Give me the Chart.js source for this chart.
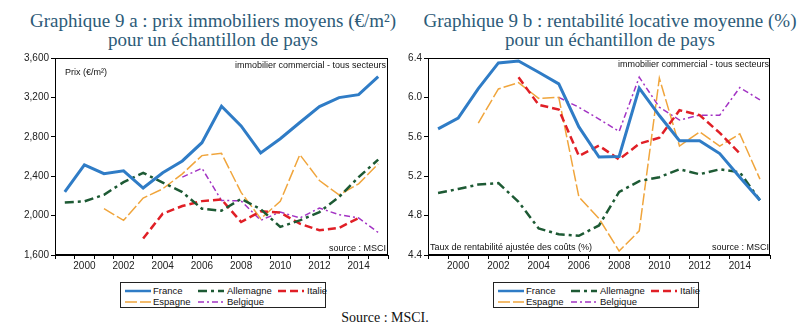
<!DOCTYPE html>
<html>
<head>
<meta charset="utf-8">
<script src="https://cdn.jsdelivr.net/npm/chart.js@4/dist/chart.umd.min.js"></script>
<style>
body{margin:0;background:#fff;width:805px;height:330px;position:relative;overflow:hidden}
.ttl{position:absolute;width:400px;text-align:center;white-space:nowrap;font-family:"Liberation Serif",serif;font-size:19px;line-height:20px;color:#2d5b78}
canvas{position:absolute}
.legend{position:absolute;border:1px solid #222;box-sizing:border-box;width:206px;height:26px;font-family:"Liberation Sans",Arial,sans-serif;font-size:9.5px;color:#111}
.legend svg,.legend span{position:absolute}
.src{position:absolute;left:285px;width:200px;top:310px;text-align:center;font-family:"Liberation Serif",serif;font-size:14px;line-height:16px;color:#111}
</style>
</head>
<body>

<div class="ttl" style="left:13px;top:11px">Graphique 9 a : prix immobiliers moyens (€/m²)</div>
<div class="ttl" style="left:13px;top:30px">pour un échantillon de pays</div>
<div class="ttl" style="left:410px;top:11px">Graphique 9 b : rentabilité locative moyenne (%)</div>
<div class="ttl" style="left:410px;top:30px">pour un échantillon de pays</div>

<canvas id="prixChart" width="400" height="230" style="left:0;top:50px"></canvas>
<canvas id="rentChart" width="405" height="230" style="left:400px;top:50px"></canvas>

<div class="legend" id="leg1" style="left:120px;top:282px"></div>
<div class="legend" id="leg2" style="left:493px;top:282px"></div>

<div class="src">Source : MSCI.</div>

<script>

let years=[1999,2000,2001,2002,2003,2004,2005,2006,2007,2008,2009,2010,2011,2012,2013,2014,2015]

let names=["France","Allemagne","Italie","Espagne","Belgique"]

// prix immobiliers (€/m²)
let prixFrance=[2240,2515,2425,2455,2280,2435,2555,2740,3110,2910,2636,2780,2945,3107,3198,3228,3410]
let prixAllemagne=[2134,2144,2211,2340,2434,2336,2238,2070,2050,2170,2065,1885,1952,2036,2188,2390,2568]
let prixItalie=[null,null,null,null,1767,2020,2097,2147,2164,1935,2043,2030,1918,1851,1875,1976,null]
let prixEspagne=[null,null,2070,1952,2178,2272,2424,2609,2632,2235,1969,2144,2619,2356,2211,2322,2525]
let prixBelgique=[null,null,null,null,null,null,2390,2481,2154,2150,1952,2036,1976,2077,2009,1976,1828]

// rentabilite locative (%)
let rentFrance=[5.68,5.79,6.09,6.35,6.37,6.255,6.137,5.70,5.395,5.40,6.095,5.816,5.56,5.56,5.43,5.19,4.956]
let rentAllemagne=[5.03,5.07,5.115,5.13,4.94,4.67,4.61,4.595,4.70,5.04,5.15,5.19,5.27,5.22,5.27,5.24,4.955]
let rentItalie=[null,null,null,null,6.205,5.924,5.877,5.405,5.51,5.37,5.53,5.59,5.87,5.82,5.64,5.43,null]
let rentEspagne=[null,null,5.74,6.086,6.15,5.99,6.00,4.99,4.77,4.44,4.645,6.195,5.506,5.65,5.506,5.63,5.17]
let rentBelgique=[null,null,null,null,null,null,6.00,5.90,5.78,5.654,6.205,5.90,5.77,5.82,5.82,6.10,5.975]

let colors=["#2f7cc6","#1d5a34","#e01f26","#f0a53c","#a334c4"]
let widths=[3,2.5,2.5,1.5,1.5]
let dashes=[[],[9,4,3,4],[8,4],[12,3],[6,3,2,3]]


let frame={
id:"frame",
afterDraw(chart,args,opts){
let c=chart.ctx
let a=chart.chartArea
c.save()
c.strokeStyle="#000"
c.lineWidth=1
c.strokeRect(a.left+0.5,a.top+0.5,a.right-a.left-1,a.bottom-a.top-1)
c.fillStyle="#111"
c.font="9px 'Liberation Sans', Arial, sans-serif"
c.textBaseline="middle"
;(opts.notes||[]).forEach(n=>{
c.textAlign=n.align
let x=n.align=="left"?a.left+n.dx:a.right-n.dx
let y=n.fromTop?a.top+n.dy:a.bottom-n.dy
c.fillText(n.text,x,y)
})
c.restore()
}
}


function makeChart(id,series,ymin,ymax,step,fmt,notes,yWidth,padRight){

return new Chart(
document.getElementById(id),
{
type:"line",
data:{
labels:years,
datasets:names.map((n,i)=>({
label:n,
data:series[i],
borderColor:colors[i],
borderWidth:widths[i],
borderDash:dashes[i],
pointRadius:0,
tension:0,
fill:false,
spanGaps:false
}))
},
options:{
responsive:false,
animation:false,
devicePixelRatio:1,
layout:{padding:{top:7,right:padRight,left:0,bottom:0}},
plugins:{
legend:{display:false},
tooltip:{enabled:false},
frame:{notes:notes}
},
scales:{
x:{
offset:true,
grid:{offset:true,drawOnChartArea:false,tickLength:4,color:"#000"},
border:{color:"#000"},
ticks:{
autoSkip:false,
maxRotation:0,
padding:1,
color:"#222",
font:{family:"Liberation Sans",size:10},
callback:(v,i)=>years[i]%2==0?String(years[i]):""
},
afterFit:s=>{s.height=25}
},
y:{
min:ymin,
max:ymax,
grid:{drawOnChartArea:false,tickLength:4,color:"#000"},
border:{color:"#000"},
ticks:{
stepSize:step,
padding:2,
color:"#222",
font:{family:"Liberation Sans",size:10},
callback:fmt
},
afterFit:s=>{s.width=yWidth}
}
}
},
plugins:[frame]
})

}


makeChart(
"prixChart",
[prixFrance,prixAllemagne,prixItalie,prixEspagne,prixBelgique],
1600,3600,400,
v=>Math.round(v).toLocaleString("en-US"),
[
{text:"Prix (€/m²)",align:"left",dx:10,dy:15,fromTop:true},
{text:"immobilier commercial - tous secteurs",align:"right",dx:2,dy:8,fromTop:true},
{text:"source : MSCI",align:"right",dx:2,dy:6,fromTop:false}
],
55,12
)

makeChart(
"rentChart",
[rentFrance,rentAllemagne,rentItalie,rentEspagne,rentBelgique],
4.4,6.4,0.4,
v=>v.toFixed(1),
[
{text:"immobilier commercial - tous secteurs",align:"right",dx:1,dy:7,fromTop:true},
{text:"Taux de rentabilité ajustée des coûts (%)",align:"left",dx:2,dy:7,fromTop:false},
{text:"source : MSCI",align:"right",dx:1,dy:7,fromTop:false}
],
28,35
)


// legends
let legCols=[[4,32],[77,106],[157,186]]
let legSlots=[[0,0],[1,0],[2,0],[0,1],[1,1]]

function buildLegend(id){

let box=document.getElementById(id)
let html=""

names.forEach((n,i)=>{
let col=legCols[legSlots[i][0]]
let cy=legSlots[i][1]==0?8:18.5
html+='<svg width="26" height="6" style="left:'+col[0]+'px;top:'+(cy-3)+'px">'
+'<line x1="0" y1="3" x2="26" y2="3" stroke="'+colors[i]+'" stroke-width="'+Math.min(widths[i],2.5)+'" stroke-dasharray="'+(dashes[i].length?dashes[i].join(","):"none")+'"/></svg>'
html+='<span style="left:'+col[1]+'px;top:'+(cy-6)+'px">'+n+'</span>'
})

box.innerHTML=html

}

buildLegend("leg1")
buildLegend("leg2")

</script>
</body>
</html>
